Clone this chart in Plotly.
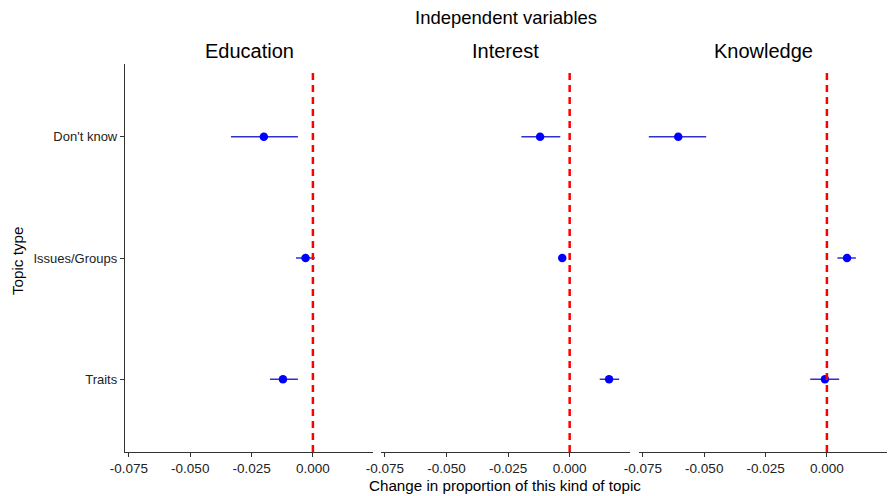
import plotly.graph_objects as go

# ---- data ----
categories = ["Don't know", "Issues/Groups", "Traits"]
panels = ["Education", "Interest", "Knowledge"]

edu_est = [-0.0200, -0.0030, -0.0122]
edu_lo = [-0.0334, -0.0069, -0.0175]
edu_hi = [-0.0061, 0.0008, -0.0061]

int_est = [-0.0120, -0.0030, 0.0160]
int_lo = [-0.0196, -0.0045, 0.0122]
int_hi = [-0.0038, -0.0015, 0.0201]

kno_est = [-0.0606, 0.0082, -0.0008]
kno_lo = [-0.0726, 0.0043, -0.0068]
kno_hi = [-0.0492, 0.0118, 0.0050]

x_ticks = [-0.075, -0.050, -0.025, 0.000]
x_tick_text = ["-0.075", "-0.050", "-0.025", "0.000"]

series = [(edu_est, edu_lo, edu_hi), (int_est, int_lo, int_hi), (kno_est, kno_lo, kno_hi)]

W, H = 888, 496
FONT = "Arial, Liberation Sans, sans-serif"
domains_px = [(125, 373), (381, 630), (639, 887)]
y_dom = [1 - 452 / H, 1 - 64 / H]

fig = go.Figure()
for i, (est, lo, hi) in enumerate(series):
    xa = "x" if i == 0 else f"x{i+1}"
    ya = "y" if i == 0 else f"y{i+1}"
    fig.add_trace(go.Scatter(
        x=est, y=categories, xaxis=xa, yaxis=ya, mode="markers",
        marker=dict(color="#0000ff", size=8.5),
        error_x=dict(type="data", symmetric=False,
                     array=[h - e for h, e in zip(hi, est)],
                     arrayminus=[e - l for e, l in zip(est, lo)],
                     color="#3030cc", thickness=1.5, width=0),
        showlegend=False, hoverinfo="x+y"))
    fig.add_shape(type="line", xref=xa, yref=f"{ya} domain", x0=0, x1=0, y0=0, y1=0.985,
                  line=dict(color="#ff0000", width=2.5, dash="7px,5px"))

layout = dict(
    width=W, height=H, margin=dict(l=0, r=0, t=0, b=0, pad=0), autosize=False,
    paper_bgcolor="white", plot_bgcolor="white",
    font=dict(family=FONT, color="#222222"),
)
for i in range(3):
    key = "xaxis" if i == 0 else f"xaxis{i+1}"
    yk = "yaxis" if i == 0 else f"yaxis{i+1}"
    a, b = domains_px[i]
    layout[key] = dict(
        domain=[a / W, b / W], range=[-0.0766, 0.0245], anchor="y" if i == 0 else f"y{i+1}",
        tickvals=x_ticks, ticktext=x_tick_text, showgrid=False, zeroline=False,
        showline=True, linecolor="#333333", linewidth=1.3, automargin=False,
        ticks="outside", ticklen=4, tickcolor="#333333", tickwidth=1,
        tickfont=dict(size=13.5, color="#222222", family=FONT),
    )
    layout[yk] = dict(
        domain=y_dom, type="category",
        categoryorder="array", categoryarray=["Traits", "Issues/Groups", "Don't know"],
        range=[-0.6, 2.6], showgrid=False, zeroline=False, automargin=False,
        anchor="x" if i == 0 else f"x{i+1}",
        showline=(i == 0), linecolor="#333333", linewidth=1.3,
        ticks="outside" if i == 0 else "", ticklen=4, tickcolor="#333333",
        showticklabels=(i == 0),
        tickfont=dict(size=13, color="#222222", family=FONT),
    )
fig.update_layout(**layout)

ann = [
    dict(text="Independent variables", x=506 / W, y=1 - 17 / H, size=18.5),
    dict(text="Change in proportion of this kind of topic", x=505 / W, y=1 - 485 / H, size=15.2),
]
for i, name in enumerate(panels):
    a, b = domains_px[i]
    ann.append(dict(text=name, x=(a + b) / 2 / W, y=1 - 51 / H, size=20))
for a_ in ann:
    fig.add_annotation(text=a_["text"], xref="paper", yref="paper", x=a_["x"], y=a_["y"],
                       xanchor="center", yanchor="middle", showarrow=False,
                       font=dict(size=a_["size"], color="black", family=FONT))
fig.add_annotation(text="Topic type", xref="paper", yref="paper", x=17 / W, y=1 - 261 / H,
                   xanchor="center", yanchor="middle", showarrow=False, textangle=-90,
                   font=dict(size=15.2, color="black", family=FONT))

fig.write_html("out.html", config={"displayModeBar": False},
               post_script="document.body.style.margin='0';document.body.style.overflow='hidden';")
